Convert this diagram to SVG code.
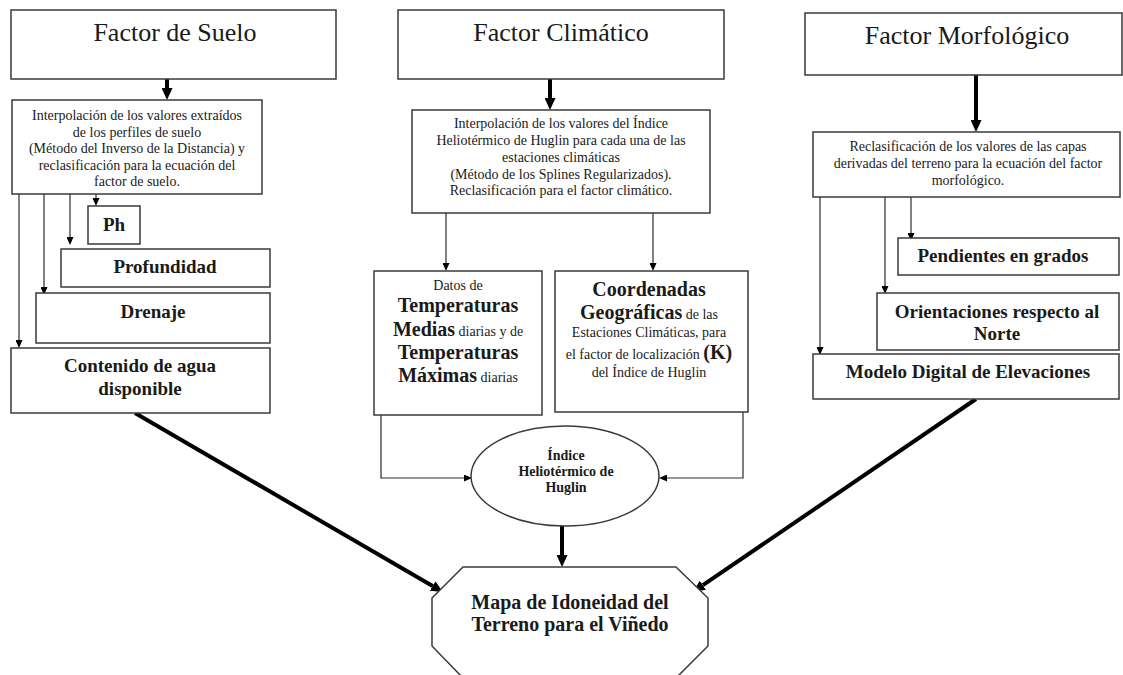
<svg xmlns="http://www.w3.org/2000/svg" width="1123" height="675" viewBox="0 0 1123 675">
<style>
text{font-family:"Liberation Serif","Times New Roman",serif;fill:#1a1a1a;text-anchor:middle}
.t{font-size:26px}
.s{font-size:14px}
.b{font-size:19px;font-weight:bold}
.m{font-size:20px;font-weight:bold}
.e{font-size:14px;font-weight:bold}
.box{fill:#fff;stroke:#3a3a3a;stroke-width:1.5}
.thin{fill:none;stroke:#2a2a2a;stroke-width:1.2;marker-end:url(#ah)}
.thick{fill:none;stroke:#000;stroke-width:4;marker-end:url(#AH)}
</style>
<defs>
<marker id="ah" markerUnits="userSpaceOnUse" markerWidth="8" markerHeight="7" refX="0" refY="3.5" orient="auto"><path d="M0,0 L8,3.5 L0,7 z" fill="#000"/></marker>
<marker id="AH" markerUnits="userSpaceOnUse" markerWidth="12" markerHeight="11" refX="0" refY="5.5" orient="auto"><path d="M0,0 L12,5.5 L0,11 z" fill="#000"/></marker>
</defs>
<rect width="1123" height="675" fill="#fff"/>

<g id="connectors">
<line class="thick" x1="167" y1="79" x2="167" y2="88"/>
<line class="thick" x1="550" y1="79" x2="550" y2="98"/>
<line class="thick" x1="976" y1="75" x2="976" y2="120"/>
<line class="thin" x1="96" y1="194" x2="96" y2="198"/>
<line class="thin" x1="70" y1="194" x2="70" y2="237"/>
<line class="thin" x1="44" y1="194" x2="44" y2="287"/>
<line class="thin" x1="19" y1="194" x2="19" y2="340"/>
<line class="thin" x1="446" y1="213" x2="446" y2="263"/>
<line class="thin" x1="653" y1="213" x2="653" y2="263"/>
<line class="thin" x1="820" y1="197" x2="820" y2="347"/>
<line class="thin" x1="885" y1="197" x2="885" y2="286"/>
<line class="thin" x1="911" y1="197" x2="911" y2="233"/>
<polyline class="thin" points="381,415 381,478 464,478"/>
<polyline class="thin" points="743,412 743,478 667,478"/>
<line class="thick" x1="562" y1="526" x2="562" y2="555"/>
<line class="thick" x1="135" y1="413" x2="432.6" y2="586"/>
<line class="thick" x1="976" y1="399" x2="702.9" y2="585.2"/>
</g>

<g id="factor-suelo"><rect class="box" x="11" y="10" width="325" height="69"/><text class="t" x="175" y="41">Factor de Suelo</text></g>
<g id="factor-climatico"><rect class="box" x="398" y="10" width="326" height="69"/><text class="t" x="561" y="41">Factor Climático</text></g>
<g id="factor-morfologico"><rect class="box" x="805" y="13" width="317" height="62"/><text class="t" x="967" y="44">Factor Morfológico</text></g>

<g id="interp-suelo"><rect class="box" x="12" y="100" width="250" height="94"/>
<text class="s" x="137"><tspan x="137" y="120">Interpolación de los valores extraídos</tspan><tspan x="137" y="136.5">de los perfiles de suelo</tspan><tspan x="137" y="153">(Método del Inverso de la Distancia) y</tspan><tspan x="137" y="169.5">reclasificación para la ecuación del</tspan><tspan x="137" y="186">factor de suelo.</tspan></text></g>

<g id="interp-clima"><rect class="box" x="412" y="110" width="298" height="103"/>
<text class="s" x="561"><tspan x="561" y="128">Interpolación de los valores del Índice</tspan><tspan x="561" y="145">Heliotérmico de Huglin para cada una de las</tspan><tspan x="561" y="162">estaciones climáticas</tspan><tspan x="561" y="178.5">(Método de los Splines Regularizados).</tspan><tspan x="561" y="195">Reclasificación para el factor climático.</tspan></text></g>

<g id="reclas-morfo"><rect class="box" x="813" y="132" width="307" height="65"/>
<text class="s" x="968"><tspan x="968" y="151">Reclasificación de los valores de las capas</tspan><tspan x="968" y="168">derivadas del terreno para la ecuación del factor</tspan><tspan x="968" y="185">morfológico.</tspan></text></g>

<g id="ph"><rect class="box" x="88" y="206" width="52" height="38"/><text class="b" x="114" y="231">Ph</text></g>
<g id="profundidad"><rect class="box" x="61" y="249" width="209" height="38"/><text class="b" x="165" y="273">Profundidad</text></g>
<g id="drenaje"><rect class="box" x="36" y="293" width="234" height="50"/><text class="b" x="153" y="318">Drenaje</text></g>
<g id="contenido"><rect class="box" x="11" y="348" width="259" height="65"/><text class="b" x="140"><tspan x="140" y="372">Contenido de agua</tspan><tspan x="140" y="395">disponible</tspan></text></g>

<g id="temperaturas"><rect class="box" x="374" y="271" width="168" height="144"/>
<text x="458"><tspan x="458" y="290" class="s">Datos de</tspan><tspan x="458" y="312" class="m">Temperaturas</tspan><tspan x="458" y="336"><tspan class="m">Medias</tspan><tspan class="s"> diarias y de</tspan></tspan><tspan x="458" y="359" class="m">Temperaturas</tspan><tspan x="458" y="382"><tspan class="m">Máximas</tspan><tspan class="s"> diarias</tspan></tspan></text></g>

<g id="coordenadas"><rect class="box" x="555" y="271" width="193" height="141"/>
<text x="649"><tspan x="649" y="296" class="m">Coordenadas</tspan><tspan x="649" y="319"><tspan class="m">Geográficas</tspan><tspan class="s"> de las</tspan></tspan><tspan x="649" y="337" class="s">Estaciones Climáticas, para</tspan><tspan x="649" y="359"><tspan class="s">el factor de localización </tspan><tspan class="m">(K)</tspan></tspan><tspan x="649" y="377" class="s">del Índice de Huglin</tspan></text></g>

<g id="pendientes"><rect class="box" x="898" y="238" width="221" height="37"/><text class="b" x="1003" y="262">Pendientes en grados</text></g>
<g id="orientaciones"><rect class="box" x="877" y="293" width="242" height="57"/><text class="b" x="997"><tspan x="997" y="318">Orientaciones respecto al</tspan><tspan x="997" y="340">Norte</tspan></text></g>
<g id="modelo"><rect class="box" x="813" y="354" width="306" height="45"/><text class="b" x="968" y="378">Modelo Digital de Elevaciones</text></g>

<g id="huglin"><ellipse class="box" cx="565" cy="476" rx="94" ry="50"/>
<text class="e" x="566"><tspan x="566" y="460">Índice</tspan><tspan x="566" y="476">Heliotérmico de</tspan><tspan x="566" y="492">Huglin</tspan></text></g>

<g id="mapa"><polygon class="box" points="463,567 676,567 708,598 708,646 676,678 463,678 432,646 432,598"/>
<text class="m" x="570"><tspan x="570" y="609">Mapa de Idoneidad del</tspan><tspan x="570" y="631">Terreno para el Viñedo</tspan></text></g>
</svg>
